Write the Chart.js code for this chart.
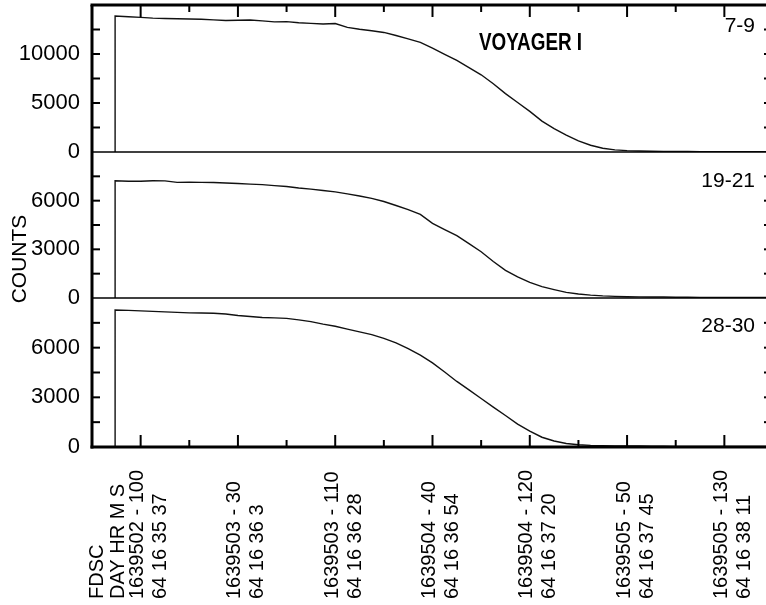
<!DOCTYPE html>
<html>
<head>
<meta charset="utf-8">
<script src="https://cdn.jsdelivr.net/npm/chart.js@4.4.0/dist/chart.umd.min.js"></script>
<style>
  html, body { margin: 0; padding: 0; background: #fff; overflow: hidden; }
  #wrap { position: relative; width: 775px; height: 605px; }
</style>
</head>
<body>
<div id="wrap"><canvas id="c"></canvas></div>
<script>
// Frame line number, counted from FDS 1639502-100
const lineIndex = [-21, -21, -10,
  0, 10, 20, 30, 40, 50, 60, 70, 80, 90,
  100, 110, 120, 130, 140, 150, 160, 170, 180, 190,
  200, 210, 220, 230, 240, 250, 260, 270, 280, 290,
  300, 310, 320, 330, 340, 350, 360, 370, 380, 390,
  400, 410, 420, 430, 440, 450, 460, 470, 480, 490,
  500, 510, 520];

// Counts in channel 7-9
const counts7to9 = [0, 13870, 13800,
  13740, 13660, 13620, 13590, 13570, 13550, 13480, 13420, 13450, 13470,
  13380, 13280, 13300, 13190, 13120, 13060, 13110, 12720, 12520, 12370,
  12200, 11890, 11550, 11180, 10600, 9970, 9340, 8620, 7880, 6970,
  5960, 5050, 4140, 3150, 2390, 1720, 1130, 690, 380, 220,
  140, 100, 80, 60, 50, 50, 40, 40, 40, 30,
  30, 30, 30];

// Counts in channel 19-21
const counts19to21 = [0, 7230, 7200,
  7200, 7230, 7220, 7130, 7140, 7130, 7120, 7090, 7060, 7020,
  6990, 6930, 6870, 6780, 6710, 6630, 6540, 6420, 6290, 6140,
  5950, 5700, 5450, 5150, 4600, 4220, 3850, 3350, 2850, 2250,
  1700, 1300, 960, 700, 520, 350, 250, 180, 130, 100,
  80, 70, 60, 60, 50, 50, 40, 40, 40, 30,
  30, 30, 30];

// Counts in channel 28-30
const counts28to30 = [0, 8270, 8250,
  8220, 8190, 8160, 8130, 8100, 8090, 8080, 8030, 7940, 7880,
  7820, 7800, 7770, 7680, 7570, 7420, 7290, 7120, 6950, 6790,
  6560, 6290, 5940, 5550, 5080, 4530, 3960, 3450, 2930, 2410,
  1900, 1380, 960, 590, 360, 210, 140, 100, 80, 70,
  60, 60, 50, 50, 40, 40, 40, 40, 30, 30,
  30, 30, 30];

// Time axis labels: FDS count and spacecraft event time (day hr m s)
const labelTicks = [0, 80, 160, 240, 320, 400, 480];
const fdsLabels = ['1639502 - 100', '1639503 - 30', '1639503 - 110', '1639504 - 40',
  '1639504 - 120', '1639505 - 50', '1639505 - 130'];
const timeLabels = ['64 16 35 37', '64 16 36 3', '64 16 36 28', '64 16 36 54',
  '64 16 37 20', '64 16 37 45', '64 16 38 11'];
const headerLabels = ['FDSC', 'DAY HR M S'];

const FONT = "'Liberation Sans', Arial, sans-serif";

const panels = [
  { id: 'yTop', name: '7-9', counts: counts7to9, max: 15000, major: 5000, minor: 2500, weight: 147, labelDy: 21 },
  { id: 'yMid', name: '19-21', counts: counts19to21, max: 9000, major: 3000, minor: 1500, weight: 146, labelDy: 29 },
  { id: 'yBot', name: '28-30', counts: counts28to30, max: 9000, major: 3000, minor: 1500, weight: 149, labelDy: 28 }
];

function yAxis(p) {
  return {
    type: 'linear',
    position: 'left',
    stack: 'panels',
    stackWeight: p.weight,
    min: 0,
    max: p.max,
    afterBuildTicks: s => { s.ticks = s.ticks.filter(t => t.value < p.max); },
    ticks: {
      stepSize: p.major,
      color: '#000',
      font: { family: FONT, size: 22 },
      padding: 12,
      autoSkip: false,
      callback: v => String(v)
    },
    grid: { display: false, drawTicks: false },
    border: { display: false },
    afterFit: s => { s.width = 92; s.paddingTop = 0; s.paddingBottom = 0; }
  };
}

function stroke(ctx, x1, y1, x2, y2, w) {
  ctx.lineWidth = w;
  ctx.beginPath();
  ctx.moveTo(x1, y1);
  ctx.lineTo(x2, y2);
  ctx.stroke();
}

function vText(ctx, text, x, y, size) {
  ctx.save();
  ctx.translate(x, y);
  ctx.rotate(-Math.PI / 2);
  ctx.font = size + 'px ' + FONT;
  ctx.textAlign = 'left';
  ctx.textBaseline = 'middle';
  ctx.fillText(text, 0, 0);
  ctx.restore();
}

// Frame, inward tick marks, panel captions and the time axis legend
const decorations = {
  id: 'decorations',
  afterDraw(chart) {
    const { ctx, chartArea: a } = chart;
    const xs = chart.scales.x;
    ctx.save();
    ctx.strokeStyle = '#000';
    ctx.fillStyle = '#000';

    panels.forEach((p, i) => {
      const s = chart.scales[p.id];
      const y0 = s.getPixelForValue(0);
      if (i < panels.length - 1) stroke(ctx, a.left, y0, a.right, y0, 1.6);
      for (let v = p.minor; v < p.max; v += p.minor) {
        const y = s.getPixelForValue(v);
        stroke(ctx, a.left, y, a.left + 8, y, 2);
        stroke(ctx, a.right - 9, y, a.right, y, 2);
      }
      ctx.font = '21px ' + FONT;
      ctx.textAlign = 'right';
      ctx.textBaseline = 'middle';
      ctx.fillText(p.name, 755, s.top + p.labelDy);
    });

    stroke(ctx, a.left - 1.5, a.top, a.right, a.top, 3);
    stroke(ctx, a.left, a.top, a.left, a.bottom + 1.5, 3);
    stroke(ctx, a.left - 1.5, a.bottom, a.right, a.bottom, 3);

    for (let v = 0; v <= xs.max; v += 40) {
      const x = xs.getPixelForValue(v);
      const len = v % 80 === 0 ? 12 : 7;
      stroke(ctx, x, a.top, x, a.top + len, 2);
      stroke(ctx, x, a.bottom, x, a.bottom - len, 2);
    }

    // VOYAGER I caption
    ctx.save();
    ctx.translate(479, 44);
    ctx.scale(0.82, 1);
    ctx.font = 'bold 23px ' + FONT;
    ctx.textAlign = 'left';
    ctx.textBaseline = 'middle';
    ctx.fillText('VOYAGER I', 0, 0);
    ctx.restore();

    // y axis title
    ctx.save();
    ctx.translate(20, 259);
    ctx.rotate(-Math.PI / 2);
    ctx.font = '21px ' + FONT;
    ctx.textAlign = 'center';
    ctx.textBaseline = 'middle';
    ctx.fillText('COUNTS', 0, 0);
    ctx.restore();

    // time axis labels, read upward
    const base = 599;
    labelTicks.forEach((v, i) => {
      const x = xs.getPixelForValue(v);
      vText(ctx, fdsLabels[i], x - 3, base, 20);
      vText(ctx, timeLabels[i], x + 20, base, 20);
    });
    const x0 = xs.getPixelForValue(labelTicks[0]);
    vText(ctx, headerLabels[0], x0 - 43, base, 20);
    vText(ctx, headerLabels[1], x0 - 22, base, 20);

    ctx.restore();
  }
};

const scales = {
  x: { type: 'linear', min: -40, max: 520, display: false }
};
// stacked axes are placed top-down from the last one defined
[panels[2], panels[1], panels[0]].forEach(p => { scales[p.id] = yAxis(p); });

new Chart(document.getElementById('c'), {
  type: 'line',
  data: {
    datasets: panels.map(p => ({
      label: p.name,
      yAxisID: p.id,
      data: lineIndex.map((x, i) => ({ x: x, y: p.counts[i] })),
      borderColor: '#111',
      borderWidth: 1.4,
      pointRadius: 0,
      tension: 0,
      fill: false
    }))
  },
  options: {
    responsive: true,
    maintainAspectRatio: false,
    animation: false,
    events: [],
    layout: { padding: { top: 5, bottom: 158, left: 0, right: 2 } },
    plugins: { legend: { display: false }, tooltip: { enabled: false } },
    scales: scales
  },
  plugins: [decorations]
});
</script>
</body>
</html>
